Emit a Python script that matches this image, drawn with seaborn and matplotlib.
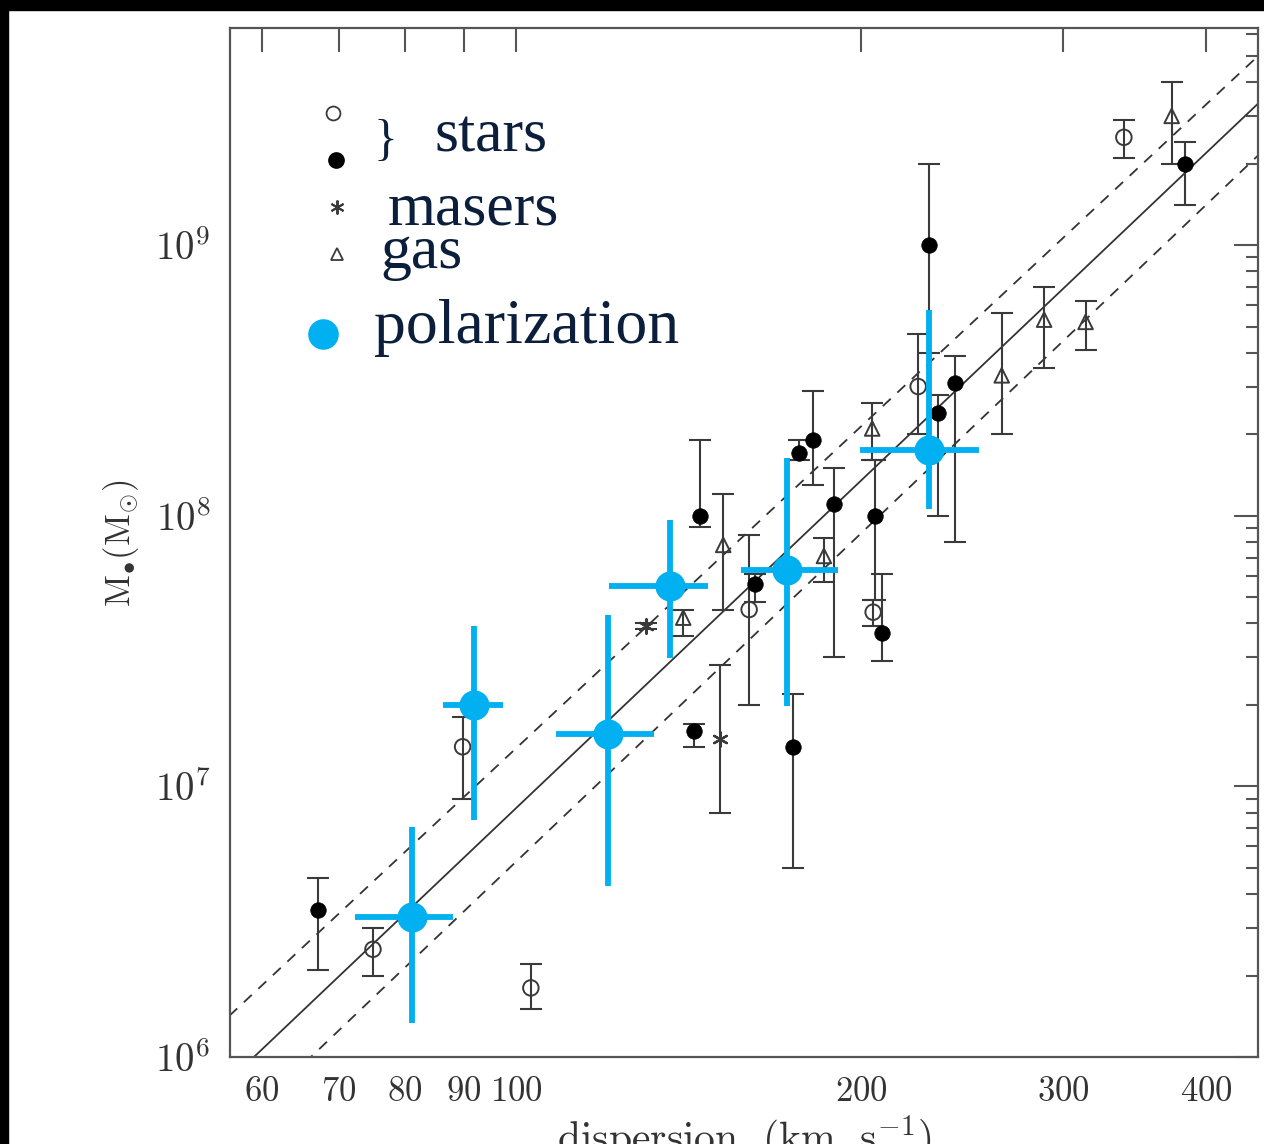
import numpy as np
import pandas as pd
import matplotlib
matplotlib.use("Agg")
import matplotlib.pyplot as plt
import seaborn as sns
from matplotlib.patches import Rectangle
from matplotlib.ticker import FixedLocator, NullFormatter, NullLocator

# ---- stellar dynamics, filled symbols ----
filled_sigma = [67.1, 144.8, 142.9, 161.6, 176.6, 181.6, 189.5, 174.5, 205.6, 208.4, 229.3, 233.5, 241.5, 383.4]
filled_mass = [3.5e6, 1.0e8, 1.6e7, 5.6e7, 1.7e8, 1.9e8, 1.1e8, 1.4e7, 1.0e8, 3.7e7, 1.0e9, 2.4e8, 3.1e8, 2.0e9]
filled_lo = [2.1e6, 9.1e7, 1.4e7, 4.8e7, 1.6e8, 1.3e8, 3.0e7, 5.0e6, 4.9e7, 2.9e7, 4.0e8, 1.0e8, 8.0e7, 1.4e9]
filled_hi = [4.6e6, 1.9e8, 1.7e7, 6.1e7, 1.9e8, 2.9e8, 1.5e8, 2.2e7, 1.6e8, 6.1e7, 2.0e9, 2.8e8, 3.9e8, 2.4e9]

# ---- stellar dynamics, open symbols ----
open_sigma = [75.0, 89.8, 103.0, 159.7, 204.9, 224.3, 339.1]
open_mass = [2.5e6, 1.4e7, 1.8e6, 4.5e7, 4.4e7, 3.0e8, 2.5e9]
open_lo = [2.0e6, 9.0e6, 1.5e6, 2.0e7, 3.9e7, 2.0e8, 2.1e9]
open_hi = [3.0e6, 1.8e7, 2.2e6, 8.5e7, 4.9e7, 4.7e8, 2.9e9]

# ---- masers ----
maser_sigma = [129.8, 150.6]
maser_mass = [3.9e7, 1.5e7]
maser_lo = [3.8e7, 8.0e6]
maser_hi = [4.0e7, 2.8e7]

# ---- gas dynamics ----
gas_sigma = [139.9, 151.6, 185.6, 204.5, 265.3, 288.9, 314.0, 373.3]
gas_mass = [4.2e7, 7.8e7, 7.1e7, 2.1e8, 3.3e8, 5.3e8, 5.2e8, 3.0e9]
gas_lo = [3.6e7, 4.5e7, 5.7e7, 1.6e8, 2.0e8, 3.5e8, 4.1e8, 2.0e9]
gas_hi = [4.5e7, 1.2e8, 8.3e7, 2.6e8, 5.6e8, 7.0e8, 6.2e8, 4.0e9]

# ---- polarization ----
pol_sigma = [81.1, 91.9, 120.3, 136.2, 172.4, 229.3]
pol_sigma_lo = [72.3, 86.4, 108.3, 120.6, 157.1, 199.5]
pol_sigma_hi = [88.1, 97.4, 132.0, 146.9, 191.0, 253.6]
pol_mass = [3.3e6, 2.0e7, 1.56e7, 5.5e7, 6.3e7, 1.75e8]
pol_mass_lo = [1.34e6, 7.5e6, 4.3e6, 2.97e7, 1.98e7, 1.06e8]
pol_mass_hi = [7.1e6, 3.9e7, 4.3e7, 9.6e7, 1.64e8, 5.75e8]

# ---- M-sigma relation: log M = a + b log(sigma/200) ----
fit_best = (8.13, 4.02)
fit_upper = (8.33, 3.95)
fit_lower = (7.935, 4.03)

x_ticks = [60, 70, 80, 90, 100, 200, 300, 400]
y_ticks = [1e6, 1e7, 1e8, 1e9]
y_tick_labels = [r"$10^6$", r"$10^7$", r"$10^8$", r"$10^9$"]

legend_labels = ["stars", "masers", "gas", "polarization"]

INK = "#3a3a3a"
BLUE = "#00b0f0"
NAVY = "#0b1f3d"

sns.set_theme(style="white")
plt.rcParams["font.family"] = ["DejaVu Sans"]
plt.rcParams["mathtext.fontset"] = "cm"

fig = plt.figure(figsize=(12.64, 11.44), dpi=100)
fig.patch.set_facecolor("white")
ax = fig.add_axes([0.18196, 0.07605, 0.81329, 0.89904])
ax.set_xscale("log")
ax.set_yscale("log")
ax.set_xlim(56.27, 444.0)
ax.set_ylim(1e6, 6.31e9)

# fit lines
xs = np.array([50.0, 500.0])
for (a, b), ls in [(fit_best, "-"), (fit_upper, (0, (6, 5))), (fit_lower, (0, (6, 5)))]:
    ys = 10 ** (a + b * np.log10(xs / 200.0))
    sns.lineplot(x=xs, y=ys, ax=ax, color="#333333", lw=1.3, linestyle=ls, zorder=2)


def with_bars(sig, m, lo, hi):
    m = np.asarray(m)
    yerr = [m - np.asarray(lo), np.asarray(hi) - m]
    ax.errorbar(sig, m, yerr=yerr, fmt="none", ecolor=INK, elinewidth=1.5,
                capsize=8, capthick=1.5, zorder=3)


with_bars(filled_sigma, filled_mass, filled_lo, filled_hi)
with_bars(open_sigma, open_mass, open_lo, open_hi)
with_bars(maser_sigma, maser_mass, maser_lo, maser_hi)
with_bars(gas_sigma, gas_mass, gas_lo, gas_hi)

sns.scatterplot(x=filled_sigma, y=filled_mass, ax=ax, marker="o", s=125,
                color="black", edgecolor="black", linewidth=0.5, zorder=4)
sns.scatterplot(x=open_sigma, y=open_mass, ax=ax, marker="o", s=125,
                facecolors="none", edgecolor=INK, color=INK, linewidth=1.4, zorder=4)
sns.scatterplot(x=maser_sigma, y=maser_mass, ax=ax, marker=(6, 2, 0), s=110,
                color=INK, linewidth=1.6, zorder=4)
sns.scatterplot(x=gas_sigma, y=gas_mass, ax=ax, marker="^", s=110,
                facecolors="none", edgecolor=INK, color=INK, linewidth=1.4, zorder=4)

# polarization crosses
pm = np.asarray(pol_mass)
ps = np.asarray(pol_sigma)
ax.errorbar(ps, pm,
            xerr=[ps - np.asarray(pol_sigma_lo), np.asarray(pol_sigma_hi) - ps],
            yerr=[pm - np.asarray(pol_mass_lo), np.asarray(pol_mass_hi) - pm],
            fmt="none", ecolor=BLUE, elinewidth=4.2, capsize=0, zorder=5)
sns.scatterplot(x=pol_sigma, y=pol_mass, ax=ax, marker="o", s=470,
                color=BLUE, edgecolor=BLUE, linewidth=0, zorder=6)

# axes frame and ticks
for sp in ax.spines.values():
    sp.set_color("#555555")
    sp.set_linewidth(1.6)
ax.xaxis.set_major_locator(FixedLocator(x_ticks))
ax.xaxis.set_minor_locator(NullLocator())
ax.set_xticks(x_ticks, [rf"${v}$" for v in x_ticks])
ax.xaxis.set_minor_formatter(NullFormatter())
ax.set_yticks(y_ticks, y_tick_labels)
ax.yaxis.set_minor_locator(FixedLocator(
    [k * 10 ** e for e in range(6, 10) for k in range(2, 10)]))
ax.yaxis.set_minor_formatter(NullFormatter())
ax.tick_params(axis="both", which="both", direction="in", top=True, right=True,
               color="#555555", width=1.5)
ax.tick_params(axis="x", which="major", length=17, labelsize=25, pad=12,
               labelcolor="#333333")
ax.tick_params(axis="y", which="major", length=17, labelsize=28, pad=14,
               labelcolor="#333333")
ax.tick_params(axis="y", which="minor", length=9)

ax.set_xlabel(r"$\mathrm{dispersion\ \ (km\ \ s^{-1})}$", fontsize=30,
              color="#333333", labelpad=4)
ax.set_ylabel(r"$\mathrm{M_{\bullet}(M_{\odot})}$", fontsize=25,
              color="#333333", labelpad=10)

# key
T = ax.transAxes
ax.plot([0.1002], [0.918], marker="o", ms=10, mfc="white", mec=INK, mew=1.3,
        transform=T, clip_on=False, zorder=7)
ax.plot([0.1031], [0.872], marker="o", ms=11, mfc="black", mec="black",
        transform=T, clip_on=False, zorder=7)
ax.plot([0.1041], [0.8265], marker=(6, 2, 0), ms=10, mec=INK, mew=1.4,
        transform=T, clip_on=False, zorder=7)
ax.plot([0.1041], [0.7807], marker="^", ms=9, mfc="white", mec=INK, mew=1.3,
        transform=T, clip_on=False, zorder=7)
ax.plot([0.0905], [0.703], marker="o", ms=21, mfc=BLUE, mec=BLUE,
        transform=T, clip_on=False, zorder=7)

serif = ["Liberation Serif", "DejaVu Serif"]
ax.text(0.1508, 0.890, "}", transform=T, fontsize=36, family=serif, color=NAVY,
        ha="center", va="center")
ax.text(0.1994, 0.880, legend_labels[0], transform=T, fontsize=44.5, family=serif,
        color=NAVY, va="baseline")
ax.text(0.1537, 0.809, legend_labels[1], transform=T, fontsize=44.5, family=serif,
        color=NAVY, va="baseline")
ax.text(0.1459, 0.767, legend_labels[2], transform=T, fontsize=44.5, family=serif,
        color=NAVY, va="baseline")
ax.text(0.1400, 0.694, legend_labels[3], transform=T, fontsize=46, family=serif,
        color=NAVY, va="baseline")

# dark frame along the top and left edges
fig.patches.append(Rectangle((0, 1 - 10 / 1144), 1, 10 / 1144, transform=fig.transFigure,
                             color="black", zorder=10))
fig.patches.append(Rectangle((0, 0), 8 / 1264, 1, transform=fig.transFigure,
                             color="black", zorder=10))

fig.savefig("out.png", dpi=100)
